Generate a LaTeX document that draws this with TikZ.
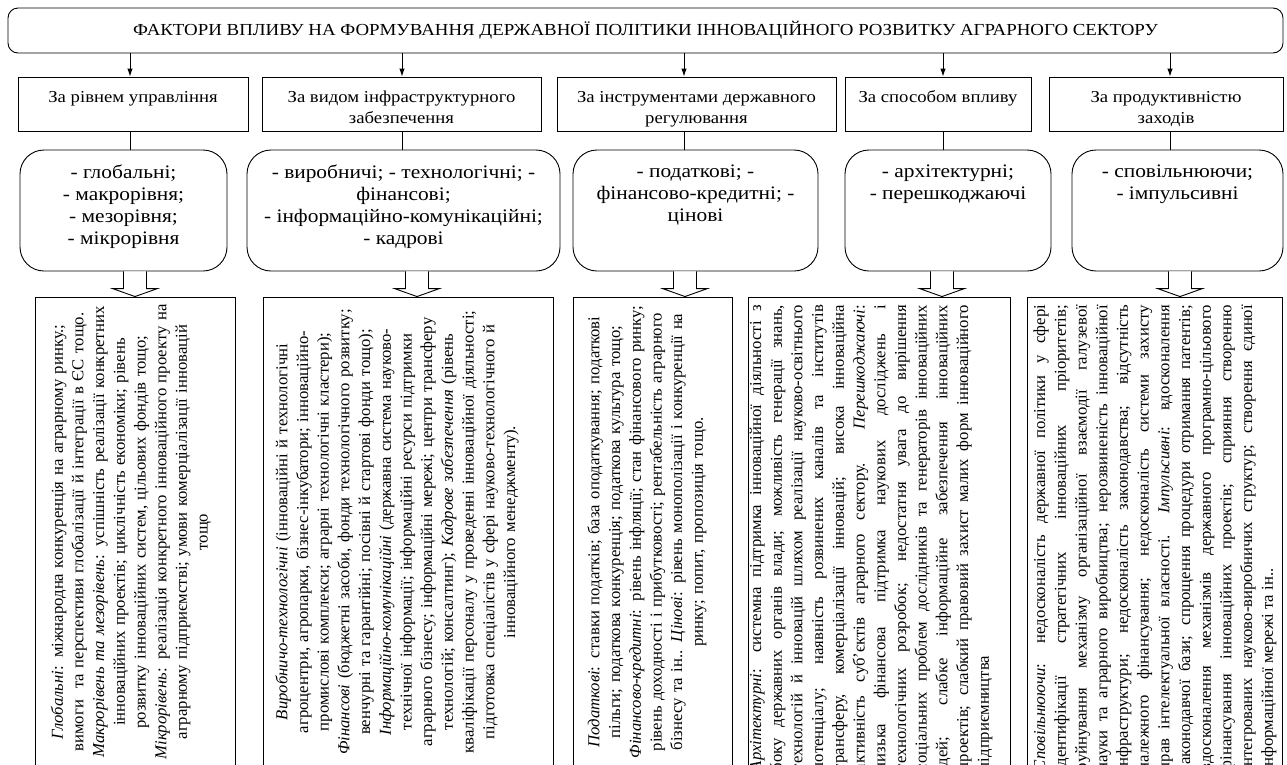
\documentclass[tikz,border=0pt]{standalone}
\usepackage{fontspec}
\setmainfont{Liberation Serif}
\newfontfamily\widefont[FakeStretch=1.12]{Liberation Serif}
\usetikzlibrary{arrows.meta,calc}
\hyphenpenalty=10000
\exhyphenpenalty=10000

\begin{document}
\begin{tikzpicture}[x=1pt,y=-1pt,
  line width=0.9pt,
  titlebox/.style={draw, rounded corners=10pt, minimum width=1275pt, minimum height=45pt, inner sep=0pt, font=\widefont\fontsize{16.85}{19}\selectfont},
  catbox/.style={draw, inner sep=0pt, minimum height=54pt, font=\widefont\fontsize{16.7}{21}\selectfont},
  listbox/.style={draw, rounded corners=24pt, inner sep=0pt, minimum height=121pt, font=\widefont\fontsize{19.1}{22}\selectfont},
  descbox/.style={draw, inner sep=0pt, minimum height=470pt},
  desctext/.style={rotate=90, inner sep=0pt, font=\fontsize{16.7}{20.7}\selectfont},
  conn/.style={-{Latex[length=8pt,width=5.5pt]}},
  blockarrow/.style={draw, fill=white}
]
\useasboundingbox (0,0) rectangle (1287,764);

\node[titlebox] (title) at (645.5,30.5) {ФАКТОРИ ВПЛИВУ НА ФОРМУВАННЯ ДЕРЖАВНОЇ ПОЛІТИКИ ІННОВАЦІЙНОГО РОЗВИТКУ АГРАРНОГО СЕКТОРУ};

% category boxes
\node[catbox, minimum width=230pt] (cat1) at (133,104) {\parbox[c][54pt][t]{226pt}{\centering\vspace*{14pt}За рівнем управління}};
\node[catbox, minimum width=279pt] (cat2) at (401.5,104) {\parbox[c][54pt][t]{275pt}{\centering\vspace*{14pt}За видом інфраструктурного\\забезпечення}};
\node[catbox, minimum width=279pt] (cat3) at (696.5,104) {\parbox[c][54pt][t]{275pt}{\centering\vspace*{14pt}За інструментами державного\\регулювання}};
\node[catbox, minimum width=186pt] (cat4) at (938,104) {\parbox[c][54pt][t]{182pt}{\centering\vspace*{14pt}За способом впливу}};
\node[catbox, minimum width=234pt] (cat5) at (1166,104) {\parbox[c][54pt][t]{230pt}{\centering\vspace*{14pt}За продуктивністю\\заходів}};

% list boxes
\node[listbox, minimum width=207pt] (list1) at (123.5,210.5) {\parbox[c][121pt][t]{200pt}{\centering\vspace*{15pt}- глобальні;\\- макрорівня;\\- мезорівня;\\- мікрорівня}};
\node[listbox, minimum width=313pt] (list2) at (403.5,210.5) {\parbox[c][121pt][t]{305pt}{\centering\vspace*{15pt}- виробничі; - технологічні; -\\фінансові;\\- інформаційно-комунікаційні;\\- кадрові}};
\node[listbox, minimum width=245pt] (list3) at (695.5,210.5) {\parbox[c][121pt][t]{238pt}{\centering\vspace*{15pt}- податкові; -\\фінансово-кредитні; -\\цінові}};
\node[listbox, minimum width=206pt] (list4) at (948,210.5) {\parbox[c][121pt][t]{200pt}{\centering\vspace*{15pt}- архітектурні;\\- перешкоджаючі}};
\node[listbox, minimum width=211pt] (list5) at (1177.5,210.5) {\parbox[c][121pt][t]{204pt}{\centering\vspace*{15pt}- сповільнюючи;\\- імпульсивні}};

% description boxes
\node[descbox, minimum width=200pt] (desc1) at (135,532) {};
\node[descbox, minimum width=290pt] (desc2) at (408,532) {};
\node[descbox, minimum width=159pt] (desc3) at (652.5,532) {};
\node[descbox, minimum width=262pt] (desc4) at (879,532) {};
\node[descbox, minimum width=255pt] (desc5) at (1154.5,532) {};

% rotated texts
\node[desctext, text width=455pt, align=center] (t1) at (131,532) {%
\textit{Глобальні}: міжнародна конкуренція на аграрному ринку.;\\
вимоги~ та перспективи глобалізації й інтеграції в ЄС тощо.\\
\textit{Макрорівень та мезорівень}: успішність реалізації конкретних\\
інноваційних проектів; циклічність економіки; рівень\\
розвитку інноваційних систем, цільових фондів тощо;\\
\textit{Мікрорівень}: реалізація конкретного інноваційного проекту на\\
аграрному підприємстві; умови комерціалізації інновацій\\
тощо};

\node[desctext, text width=455pt, align=center] (t2) at (397,532) {%
\textit{Виробничо-технологічні} (інноваційні й технологічні\\
агроцентри, агропарки, бізнес-інкубатори; інноваційно-\\
промислові комплекси; аграрні технологічні кластери);\\
\textit{Фінансові} (бюджетні засоби, фонди технологічного розвитку;\\
венчурні та гарантійні; посівні й стартові фонди тощо);\\
\textit{Інформаційно-комунікаційні} (державна система науково-\\
технічної інформації; інформаційні ресурси підтримки\\
аграрного бізнесу; інформаційні мережі; центри трансферу\\
технологій; консалтинг); \textit{Кадрове забезпечення} (рівень\\
кваліфікації персоналу у проведенні інноваційної діяльності;\\
підготовка спеціалістів у сфері науково-технологічного й\\
інноваційного менеджменту).};

\node[desctext, text width=455pt, align=center] (t3) at (647,532) {%
\textit{Податкові}: ставки податків; база оподаткування; податкові\\
пільги; податкова конкуренція; податкова культура тощо;\\
\textit{Фінансово-кредитні}: рівень інфляції; стан фінансового ринку;\\
рівень доходності і прибутковості; рентабельність аграрного\\
бізнесу та ін.. \textit{Цінові}: рівень монополізації і конкуренції на\\
ринку; попит, пропозиція тощо.};

\node[desctext, text width=466pt, align=justify] (t4) at (871,538) {%
\textit{Архітектурні}: системна підтримка інноваційної діяльності з \linebreak
боку державних органів влади; можливість генерації знань, \linebreak
технологій й інновацій шляхом реалізації науково-освітнього \linebreak
потенціалу; наявність розвинених каналів та інститутів \linebreak
трансферу, комерціалізації інновацій; висока інноваційна \linebreak
активність суб'єктів аграрного сектору. \textit{Перешкоджаючі}: \linebreak
низька фінансова підтримка наукових досліджень і \linebreak
технологічних розробок; недостатня увага до вирішення \linebreak
соціальних проблем дослідників та генераторів інноваційних \linebreak
ідей; слабке інформаційне забезпечення інноваційних \linebreak
проектів; слабкий правовий захист малих форм інноваційного \linebreak
підприємництва};

\node[desctext, text width=466pt, align=justify] (t5) at (1155,538) {%
\textit{Сповільнюючи}: недосконалість державної політики у сфері \linebreak
ідентифікації стратегічних інноваційних пріоритетів; \linebreak
руйнування механізму організаційної взаємодії галузевої \linebreak
науки та аграрного виробництва; нерозвиненість інноваційної \linebreak
інфраструктури; недосконалість законодавства; відсутність \linebreak
належного фінансування; недосконалість системи захисту \linebreak
прав інтелектуальної власності. \textit{Імпульсивні}: вдосконалення \linebreak
законодавчої бази; спрощення процедури отримання патентів; \linebreak
вдосконалення механізмів державного програмно-цільового \linebreak
фінансування інноваційних проектів; сприяння створенню \linebreak
інтегрованих науково-виробничих структур; створення єдиної \linebreak
інформаційної мережі та ін..};

% connectors
\foreach \i/\cx in {1/130, 2/402, 3/684, 4/943, 5/1170} {
  \draw[conn] (title.south -| \cx,0) -- (cat\i.north -| \cx,0);
  \draw (cat\i.south -| \cx,0) -- (list\i.north -| \cx,0);
}
\foreach \i/\cx in {1/135, 2/417, 3/685, 4/942, 5/1180} {
  \path (list\i.south -| \cx,0) coordinate (a\i) (desc\i.north -| \cx,0) coordinate (b\i);
  \draw[blockarrow] ($(a\i)+(-11.5,0)$) -- ($(b\i)+(-11.5,-8)$) -- ($(b\i)+(-22.5,-8)$) -- (b\i) -- ($(b\i)+(22.5,-8)$) -- ($(b\i)+(11.5,-8)$) -- ($(a\i)+(11.5,0)$);
}
\end{tikzpicture}
\end{document}
